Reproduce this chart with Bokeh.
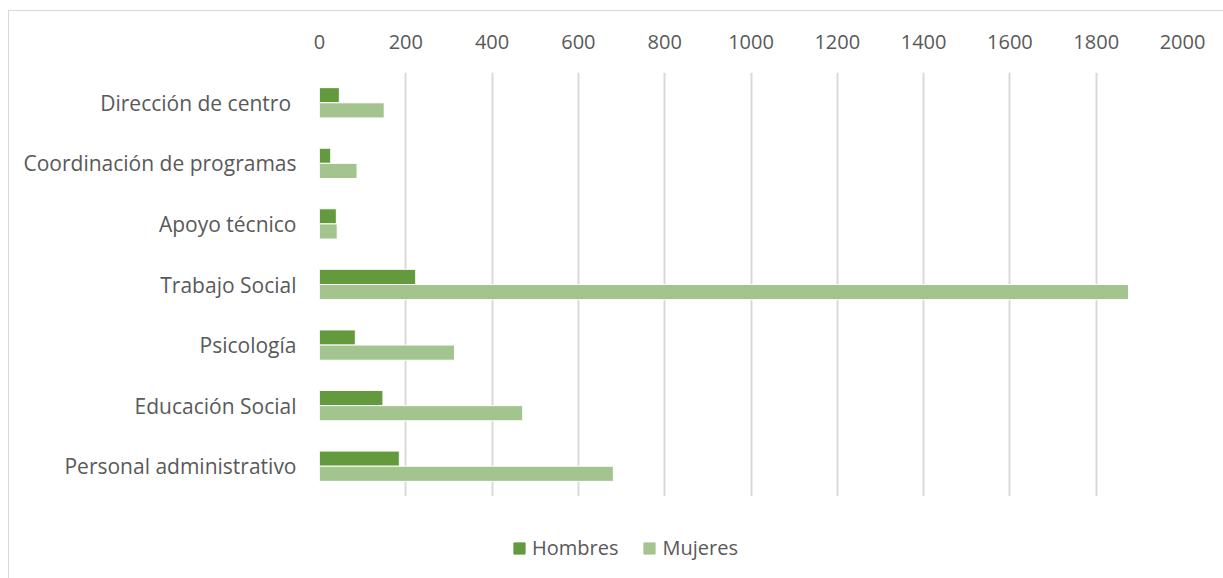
from bokeh.plotting import figure
from bokeh.layouts import column
from bokeh.models import ColumnDataSource, FactorRange, Legend, LegendItem, FixedTicker
from bokeh.transform import dodge
from bokeh.embed import file_html
from bokeh.resources import INLINE

categories = ["Dirección de centro ", "Coordinación de programas", "Apoyo técnico",
              "Trabajo Social", "Psicología", "Educación Social", "Personal administrativo"]
hombres = [46, 26, 39, 223, 83, 147, 185]
mujeres = [150, 87, 41, 1875, 313, 471, 681]
x_ticks = [0, 200, 400, 600, 800, 1000, 1200, 1400, 1600, 1800, 2000]
series_names = ["Hombres", "Mujeres"]

HOMBRES_COLOR = "#639A3E"
MUJERES_COLOR = "#A3C48F"
TEXT_COLOR = "#595959"
FONT = "Open Sans"

source = ColumnDataSource(dict(cat=categories, hombres=hombres, mujeres=mujeres))

p = figure(
    width=1214, height=485,
    y_range=FactorRange(factors=list(reversed(categories))),
    x_range=(0, 2000),
    output_backend="svg", toolbar_location=None,
    x_axis_location="above",
    min_border_left=310, min_border_right=41, min_border_top=61, min_border_bottom=0,
)

rh = p.hbar(y=dodge("cat", 0.125, range=p.y_range), right="hombres", left=0, height=0.25,
            source=source, fill_color=HOMBRES_COLOR, line_color="#FFFFFF", line_width=1)
rm = p.hbar(y=dodge("cat", -0.125, range=p.y_range), right="mujeres", left=0, height=0.25,
            source=source, fill_color=MUJERES_COLOR, line_color="#FFFFFF", line_width=1)

p.xaxis.ticker = FixedTicker(ticks=x_ticks)
p.xaxis.axis_line_color = None
p.xaxis.major_tick_line_color = None
p.xaxis.minor_tick_line_color = None
p.xaxis.major_tick_out = 0
p.xaxis.major_label_text_font = FONT
p.xaxis.major_label_text_font_size = "20px"
p.xaxis.major_label_text_color = TEXT_COLOR
p.xaxis.major_label_standoff = 24

p.yaxis.axis_line_color = None
p.yaxis.major_tick_line_color = None
p.yaxis.minor_tick_line_color = None
p.yaxis.major_tick_out = 0
p.yaxis.major_label_text_font = FONT
p.yaxis.major_label_text_font_size = "21px"
p.yaxis.major_label_text_color = TEXT_COLOR
p.yaxis.major_label_standoff = 23

p.xgrid.grid_line_color = "#D9D9D9"
p.xgrid.grid_line_width = 2
p.ygrid.grid_line_color = None
p.outline_line_color = None

# legend strip below the chart (its series renderers are hidden; only the legend shows)
lf = figure(
    width=1214, height=82, x_range=(0, 2000),
    y_range=FactorRange(factors=list(reversed(categories))),
    output_backend="svg", toolbar_location=None,
    x_axis_location=None, y_axis_location=None,
    min_border_left=310, min_border_right=41, min_border_top=0, min_border_bottom=0,
)
lf.xgrid.grid_line_color = None
lf.ygrid.grid_line_color = None
lf.outline_line_color = None
lh = lf.hbar(y="cat", right="hombres", left=0, height=0.25, source=source,
             fill_color=HOMBRES_COLOR, line_color=HOMBRES_COLOR)
lm = lf.hbar(y="cat", right="mujeres", left=0, height=0.25, source=source,
             fill_color=MUJERES_COLOR, line_color=MUJERES_COLOR)
lh.visible = False
lm.visible = False

legend = Legend(
    items=[LegendItem(label=series_names[0], renderers=[lh]),
           LegendItem(label=series_names[1], renderers=[lm])],
    orientation="horizontal", location=(193, 17), click_policy="none",
    label_text_font=FONT, label_text_font_size="20px", label_text_color=TEXT_COLOR,
    glyph_width=14, glyph_height=14, spacing=24, label_standoff=6,
    border_line_color=None, background_fill_alpha=0, padding=0, margin=0,
)
lf.add_layout(legend, "center")

layout = column(p, lf, spacing=0,
                styles={"border-left": "1px solid #D9D9D9", "border-top": "1px solid #D9D9D9",
                        "margin-left": "8px", "margin-top": "10px"})
open("out.html", "w").write(file_html(layout, INLINE))
